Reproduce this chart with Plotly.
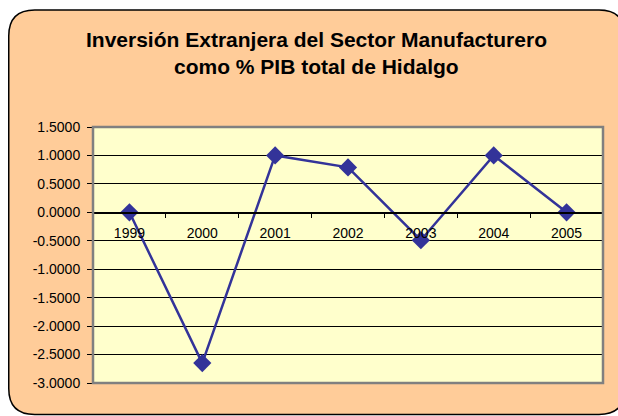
import plotly.graph_objects as go

years = ["1999", "2000", "2001", "2002", "2003", "2004", "2005"]
values = [0.0, -2.65, 1.0, 0.79, -0.49, 1.0, 0.0]
y_ticks = [1.5, 1.0, 0.5, 0.0, -0.5, -1.0, -1.5, -2.0, -2.5, -3.0]
y_tick_labels = [f"{v:.4f}" for v in y_ticks]
title_lines = ["Inversión Extranjera del Sector Manufacturero", "como % PIB total de Hidalgo"]

W, H = 618, 416
L, R, T, B = 93, 15, 127, 33
PW, PH = W - L - R, H - T - B

def px(x):
    return (x - L) / PW

def py(y):
    return (H - B - y) / PH

# outer rounded box (window pixel coordinates)
x0, y0, x1, y1, r = 8.75, 10, 625, 414.5, 26
path = (
    f"M {px(x0 + r)},{py(y0)} L {px(x1 - r)},{py(y0)} "
    f"Q {px(x1)},{py(y0)} {px(x1)},{py(y0 + r)} "
    f"L {px(x1)},{py(y1 - r)} Q {px(x1)},{py(y1)} {px(x1 - r)},{py(y1)} "
    f"L {px(x0 + r)},{py(y1)} Q {px(x0)},{py(y1)} {px(x0)},{py(y1 - r)} "
    f"L {px(x0)},{py(y0 + r)} Q {px(x0)},{py(y0)} {px(x0 + r)},{py(y0)} Z"
)

fig = go.Figure()
fig.add_trace(go.Scatter(
    x=years, y=values, mode="lines+markers",
    line=dict(color="#333399", width=2.5),
    marker=dict(symbol="diamond", size=14, color="#333399"),
    hoverinfo="skip", showlegend=False,
))

fig.update_layout(
    width=W, height=H,
    margin=dict(l=L, r=R, t=T, b=B, pad=0),
    paper_bgcolor="white",
    plot_bgcolor="rgba(0,0,0,0)",
    font=dict(family="Liberation Sans, Arial, sans-serif", color="black", size=14),
    shapes=[
        dict(type="path", xref="paper", yref="paper", path=path,
             fillcolor="#FFCC99", line=dict(color="black", width=1.5), layer="below"),
        dict(type="rect", xref="paper", yref="paper", x0=0, x1=1, y0=0, y1=1,
             fillcolor="#FFFFCC", line=dict(width=0), layer="below"),
        dict(type="rect", xref="paper", yref="paper", x0=0, x1=1, y0=0, y1=1,
             fillcolor="rgba(0,0,0,0)", line=dict(color="#808080", width=2.5), layer="above"),
    ],
    annotations=[
        dict(text="<b>" + title_lines[0] + "</b>", xref="paper", yref="paper",
             x=px(316), y=py(39), xanchor="center", yanchor="middle", showarrow=False,
             font=dict(size=21, color="black")),
        dict(text="<b>" + title_lines[1] + "</b>", xref="paper", yref="paper",
             x=px(316), y=py(66), xanchor="center", yanchor="middle", showarrow=False,
             font=dict(size=21, color="black")),
    ],
)

fig.update_yaxes(
    range=[-3, 1.5], tickvals=y_ticks, ticktext=y_tick_labels,
    showgrid=True, gridcolor="black", gridwidth=1,
    zeroline=False, showline=False,
    ticks="outside", ticklen=5, tickcolor="black", tickwidth=1,
    ticklabelstandoff=4,
)
fig.update_xaxes(
    type="category", range=[-0.5, 6.5],
    anchor="free", position=3 / 4.5,
    showline=True, linecolor="black", linewidth=1.5,
    showgrid=False, zeroline=False,
    ticks="outside", tickson="boundaries", ticklen=4, tickcolor="black",
    ticklabelstandoff=7,
)

fig.write_html(
    "out.html",
    config={"displayModeBar": False, "staticPlot": True},
    post_script="document.body.style.margin='0';document.body.style.overflow='hidden';",
)
